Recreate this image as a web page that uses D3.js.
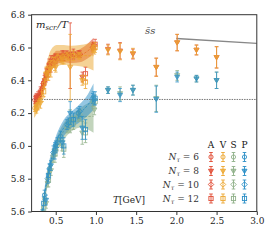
<!DOCTYPE html>
<html>
<head>
<meta charset="utf-8">
<script src="https://cdn.jsdelivr.net/npm/d3@7"></script>
<style>
  body { margin: 0; background: #fff; }
  text { font-family: "DejaVu Serif", serif; }
</style>
</head>
<body>
<div id="chart"></div>
<script>
// temperatures (GeV) per N_tau
const T6 = [0.24, 0.30, 0.36, 0.42, 0.52, 0.64, 0.78, 0.97];
const T8 = [0.26, 0.31, 0.38, 0.44, 0.50, 0.58, 0.68, 0.83, 0.98, 1.15, 1.30, 1.46, 1.75, 2.01, 2.25, 2.50];
const T10 = [0.27, 0.33, 0.40, 0.47, 0.56, 0.66, 0.80, 0.96];
const T12 = [0.28, 0.35, 0.41, 0.49, 0.60, 0.72, 0.87, 0.99];

// m_scr/T values
const A6 = [6.28, 6.31, 6.40, 6.50, 6.54, 6.56, 6.56, 6.61];
const V6 = [6.23, 6.27, 6.38, 6.48, 6.54, 6.55, 6.55, 6.60];
const S6 = [4.95, 5.30, 5.68, 5.84, 6.00, 6.11, 6.18, 6.27];
const P6 = [5.00, 5.35, 5.70, 5.86, 6.02, 6.13, 6.20, 6.30];

const A8 = [6.30, 6.33, 6.43, 6.50, 6.53, 6.55, 6.55, 6.42, 6.61, 6.59, 6.58, 6.56, 6.48, 6.63, 6.585, 6.54];
const V8 = [6.22, 6.26, 6.44, 6.47, 6.48, 6.53, 6.48, 6.40, 6.58, 6.585, 6.575, 6.565, 6.48, 6.63, 6.585, 6.54];
const S8 = [5.15, 5.40, 5.65, 5.85, 5.97, 6.00, 6.15, 6.08, 6.22, 6.34, 6.32, 6.34, 6.29, 6.43, 6.41, 6.40];
const P8 = [5.20, 5.45, 5.67, 5.88, 6.00, 6.02, 6.20, 6.11, 6.28, 6.34, 6.31, 6.34, 6.285, 6.42, 6.41, 6.40];

const A10 = [6.29, 6.35, 6.45, 6.52, 6.54, 6.55, 6.56, 6.60];
const V10 = [6.24, 6.30, 6.43, 6.51, 6.53, 6.54, 6.55, 6.59];
const S10 = [5.20, 5.55, 5.78, 5.94, 6.04, 6.12, 6.19, 6.27];
const P10 = [5.25, 5.58, 5.80, 5.96, 6.06, 6.14, 6.21, 6.29];

const A12 = [6.30, 6.38, 6.46, 6.52, 6.55, 6.56, 6.44, 6.62];
const V12 = [6.25, 6.33, 6.44, 6.50, 6.53, 6.55, 6.39, 6.60];
const S12 = [5.28, 5.62, 5.79, 5.95, 5.98, 6.14, 6.08, 6.27];
const P12 = [5.30, 5.65, 5.82, 5.97, 6.00, 6.16, 6.10, 6.29];

// error bars
const eUp6 = [0.02, 0.02, 0.03, 0.03, 0.02, 0.02, 0.02, 0.02];
const eLo6 = [0.03, 0.03, 0.03, 0.03, 0.03, 0.03, 0.03, 0.03];
const eUp8 = [0.02, 0.03, 0.04, 0.05, 0.03, 0.03, 0.20, 0.03, 0.02, 0.03, 0.05, 0.03, 0.055, 0.05, 0.03, 0.065];
const eLo8 = [0.03, 0.03, 0.03, 0.03, 0.03, 0.03, 0.07, 0.07, 0.03, 0.02, 0.04, 0.03, 0.08, 0.03, 0.02, 0.05];
const eUp10 = [0.02, 0.03, 0.03, 0.03, 0.02, 0.02, 0.02, 0.02];
const eLo10 = [0.03, 0.03, 0.03, 0.04, 0.03, 0.03, 0.03, 0.03];
const eUp12 = [0.03, 0.03, 0.04, 0.04, 0.03, 0.03, 0.04, 0.03];
const eLo12 = [0.03, 0.04, 0.04, 0.05, 0.05, 0.04, 0.06, 0.04];

// continuum bands
const bandTUp = [0.23, 0.27, 0.30, 0.34, 0.37, 0.40, 0.43, 0.47, 0.51, 0.60, 0.70, 0.80, 0.90, 0.97];
const bandA = [6.27, 6.28, 6.31, 6.37, 6.42, 6.47, 6.50, 6.52, 6.54, 6.545, 6.54, 6.55, 6.58, 6.61];
const bandAErr = [0.04, 0.04, 0.04, 0.04, 0.04, 0.04, 0.04, 0.04, 0.04, 0.035, 0.035, 0.04, 0.045, 0.05];
const bandV = [6.22, 6.25, 6.29, 6.36, 6.42, 6.47, 6.51, 6.54, 6.55, 6.555, 6.55, 6.55, 6.55, 6.55];
const bandVErr = [0.05, 0.05, 0.05, 0.05, 0.06, 0.06, 0.065, 0.065, 0.065, 0.06, 0.06, 0.065, 0.075, 0.09];

const bandTLo = [0.33, 0.36, 0.40, 0.45, 0.50, 0.55, 0.60, 0.70, 0.80, 0.90, 0.97];
const bandP = [5.58, 5.70, 5.82, 5.93, 6.01, 6.07, 6.11, 6.16, 6.20, 6.25, 6.30];
const bandPErr = [0.04, 0.04, 0.04, 0.04, 0.045, 0.045, 0.05, 0.05, 0.055, 0.065, 0.08];
const bandS = [5.56, 5.68, 5.80, 5.91, 5.99, 6.05, 6.09, 6.14, 6.17, 6.18, 6.18];
const bandSErr = [0.04, 0.04, 0.04, 0.04, 0.045, 0.045, 0.05, 0.05, 0.06, 0.08, 0.10];

// free-field / perturbative line
const pertT = [2.0, 3.0];
const pertV = [6.655, 6.625];

const channels = ['A', 'V', 'S', 'P'];
const ntaus = [6, 8, 10, 12];
const colors = { A: '#e0472f', V: '#eca52c', S: '#8fb088', P: '#2a8ec6' };
const xTicks = [0.5, 1.0, 1.5, 2.0, 2.5, 3.0];
const yTicks = [5.6, 5.8, 6.0, 6.2, 6.4, 6.6, 6.8];

const temps = { 6: T6, 8: T8, 10: T10, 12: T12 };
const vals = {
  A: { 6: A6, 8: A8, 10: A10, 12: A12 },
  V: { 6: V6, 8: V8, 10: V10, 12: V12 },
  S: { 6: S6, 8: S8, 10: S10, 12: S12 },
  P: { 6: P6, 8: P8, 10: P10, 12: P12 }
};
const errs = {
  up: { 6: eUp6, 8: eUp8, 10: eUp10, 12: eUp12 },
  lo: { 6: eLo6, 8: eLo8, 10: eLo10, 12: eLo12 }
};

const width = 274, height = 240;
const margin = { left: 31.6, right: 17.2, top: 14.7, bottom: 28.5 };

const svg = d3.select('#chart').append('svg')
  .attr('width', width)
  .attr('height', height);

const x = d3.scaleLinear().domain([0.2, 3.0]).range([margin.left, width - margin.right]);
const y = d3.scaleLinear().domain([5.6, 6.8]).range([height - margin.bottom, margin.top]);

svg.append('clipPath').attr('id', 'clip')
  .append('rect')
    .attr('x', margin.left).attr('y', margin.top)
    .attr('width', x.range()[1] - margin.left)
    .attr('height', y.range()[0] - margin.top);

const plot = svg.append('g').attr('clip-path', 'url(#clip)');

// bands
function drawBand(ts, mid, err, color, opacity) {
  const data = ts.map((t, i) => ({ t: t, m: mid[i], e: err[i] }));
  const area = d3.area()
    .curve(d3.curveMonotoneX)
    .x(d => x(d.t))
    .y0(d => y(d.m - d.e))
    .y1(d => y(d.m + d.e));
  plot.append('path')
    .datum(data)
    .attr('d', area)
    .attr('fill', color)
    .attr('fill-opacity', opacity);
  plot.append('path')
    .datum(data)
    .attr('d', d3.line().curve(d3.curveMonotoneX).x(d => x(d.t)).y(d => y(d.m)))
    .attr('fill', 'none')
    .attr('stroke', color)
    .attr('stroke-width', 0.9)
    .attr('stroke-dasharray', '2.5,1.5');
}

drawBand(bandTLo, bandS, bandSErr, colors.S, 0.55);
drawBand(bandTLo, bandP, bandPErr, colors.P, 0.5);
drawBand(bandTUp, bandA, bandAErr, colors.A, 0.55);
drawBand(bandTUp, bandV, bandVErr, colors.V, 0.5);

// reference line at 2 pi
plot.append('line')
  .attr('x1', x(0.2)).attr('x2', x(3.0))
  .attr('y1', y(2 * Math.PI)).attr('y2', y(2 * Math.PI))
  .attr('stroke', '#555')
  .attr('stroke-width', 0.8)
  .attr('stroke-dasharray', '1.5,1');

// perturbative line
plot.append('path')
  .datum(pertT.map((t, i) => [t, pertV[i]]))
  .attr('d', d3.line().x(d => x(d[0])).y(d => y(d[1])))
  .attr('stroke', '#888')
  .attr('stroke-width', 1.4)
  .attr('fill', 'none');

// marker shapes
function marker(g, nt, cx, cy, color, r) {
  if (nt === 6) {
    g.append('circle').attr('cx', cx).attr('cy', cy).attr('r', r)
      .attr('fill', 'none').attr('stroke', color).attr('stroke-width', 0.9);
  } else if (nt === 8) {
    const s = r * 1.2;
    g.append('path')
      .attr('d', `M${cx - s},${cy - s * 0.7}L${cx + s},${cy - s * 0.7}L${cx},${cy + s}Z`)
      .attr('fill', color).attr('fill-opacity', 0.7)
      .attr('stroke', color).attr('stroke-width', 0.9);
  } else if (nt === 10) {
    const s = r * 1.3;
    g.append('path')
      .attr('d', `M${cx},${cy - s}L${cx + s},${cy}L${cx},${cy + s}L${cx - s},${cy}Z`)
      .attr('fill', 'none').attr('stroke', color).attr('stroke-width', 0.9);
  } else {
    g.append('rect').attr('x', cx - r).attr('y', cy - r)
      .attr('width', 2 * r).attr('height', 2 * r)
      .attr('fill', 'none').attr('stroke', color).attr('stroke-width', 0.9);
  }
}

function errorbar(g, cx, y0, y1, color) {
  g.append('line').attr('x1', cx).attr('x2', cx).attr('y1', y0).attr('y2', y1)
    .attr('stroke', color).attr('stroke-width', 0.9);
  [y0, y1].forEach(yy => g.append('line')
    .attr('x1', cx - 1.8).attr('x2', cx + 1.8).attr('y1', yy).attr('y2', yy)
    .attr('stroke', color).attr('stroke-width', 0.9));
}

// data points
channels.forEach(ch => {
  const g = plot.append('g').attr('opacity', 0.85);
  ntaus.forEach(nt => {
    const e = (ch === 'A' || ch === 'V') ? errs.up[nt] : errs.lo[nt];
    temps[nt].forEach((t, i) => {
      const v = vals[ch][nt][i];
      errorbar(g, x(t), y(v - e[i]), y(v + e[i]), colors[ch]);
      marker(g, nt, x(t), y(v), colors[ch], 2.1);
    });
  });
});

// axes frame
const frame = svg.append('g');
frame.append('rect')
  .attr('x', margin.left).attr('y', margin.top)
  .attr('width', x.range()[1] - margin.left)
  .attr('height', y.range()[0] - margin.top)
  .attr('fill', 'none').attr('stroke', '#333').attr('stroke-width', 1);

const xAxis = svg.append('g')
  .attr('transform', `translate(0,${y.range()[0]})`)
  .call(d3.axisBottom(x).tickValues(xTicks).tickFormat(d3.format('.1f')).tickSize(3.5).tickPadding(3));
const yAxis = svg.append('g')
  .attr('transform', `translate(${margin.left},0)`)
  .call(d3.axisLeft(y).tickValues(yTicks).tickFormat(d3.format('.1f')).tickSize(3.5).tickPadding(3));
[xAxis, yAxis].forEach(a => {
  a.select('.domain').remove();
  a.selectAll('line').attr('stroke', '#333');
  a.selectAll('text').attr('font-family', '"DejaVu Serif", serif').attr('font-size', 9).attr('fill', '#222');
});

// labels
const yl = svg.append('text').attr('x', 36).attr('y', 28)
  .attr('font-size', 10).attr('font-style', 'italic').attr('fill', '#222');
yl.append('tspan').text('m');
yl.append('tspan').attr('font-size', 7).attr('dy', 2).text('scr.');
yl.append('tspan').attr('dy', -2).text('/T');

svg.append('text').attr('x', 145).attr('y', 34)
  .attr('font-size', 10).attr('font-style', 'italic').attr('fill', '#444')
  .text('s\u0304s');

const xl = svg.append('text').attr('x', 113).attr('y', 203)
  .attr('font-size', 9).attr('fill', '#222');
xl.append('tspan').attr('font-style', 'italic').text('T');
xl.append('tspan').text('[GeV]');

// legend
const legX = { A: 211, V: 223, S: 233.5, P: 244.5 };
const legY = { 6: 157, 8: 171, 10: 184.5, 12: 198.5 };
const leg = svg.append('g');
channels.forEach(ch => {
  leg.append('text').attr('x', legX[ch]).attr('y', 148)
    .attr('text-anchor', 'middle')
    .attr('font-family', '"DejaVu Sans", sans-serif')
    .attr('font-size', 9).attr('fill', '#111')
    .text(ch);
  ntaus.forEach(nt => {
    errorbar(leg, legX[ch], legY[nt] - 4.5, legY[nt] + 4.5, colors[ch]);
    marker(leg, nt, legX[ch], legY[nt], colors[ch], 2.1);
  });
});
ntaus.forEach(nt => {
  const t = leg.append('text').attr('x', 199).attr('y', legY[nt] + 3)
    .attr('text-anchor', 'end').attr('font-size', 9).attr('fill', '#333');
  t.append('tspan').attr('font-style', 'italic').text('N');
  t.append('tspan').attr('font-style', 'italic').attr('font-size', 6.5).attr('dy', 2).text('\u03c4');
  t.append('tspan').attr('dy', -2).text(' = ' + nt);
});
</script>
</body>
</html>
